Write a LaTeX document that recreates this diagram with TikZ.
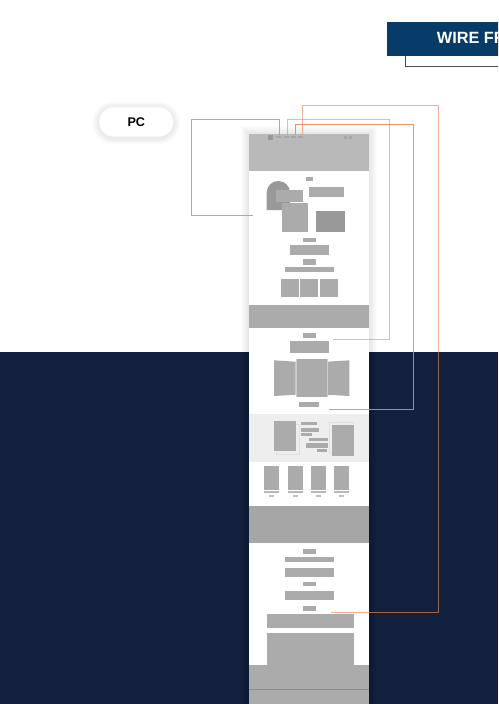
\documentclass[tikz,border=0pt]{standalone}
\usepackage{fontspec}
\setmainfont{Liberation Sans}
\definecolor{navy}{HTML}{13213F}
\definecolor{bannerblue}{HTML}{073C68}
\definecolor{hdr}{HTML}{B9B9B9}
\definecolor{el}{HTML}{ABABAB}
\definecolor{dk}{HTML}{999999}
\definecolor{lg}{HTML}{EEEEEE}
\definecolor{org}{HTML}{EE8A4E}
\tikzset{
  el/.style={fill=el},
  dkel/.style={fill=dk},
  link/.style={draw=org, line width=0.9pt},
  faint/.style={draw=black!12, line width=0.5pt},
  softshade/.style={fill=black, fill opacity=0.012},
}
\begin{document}
\begin{tikzpicture}[x=1pt,y=-1pt]
\useasboundingbox (0,0) rectangle (498,704);
\clip (0,0) rectangle (498,704);
\fill[white] (0,0) rectangle (498,704);
% dark lower background
\fill[navy] (0,352) rectangle (498,704);
% banner
\draw[black!70, line width=1pt] (405.7,50) -- (405.7,66.7) -- (510,66.7);
\fill[bannerblue] (387.3,21.7) rectangle (510,56);
\node[anchor=base west, inner sep=0pt, text=white, font=\bfseries\fontsize{16.3}{18}\selectfont] (title) at (436.7,43.3) {WIRE FRAME};
% PC pill soft shadow
\foreach \d in {1,2,...,7}
  \fill[softshade, rounded corners=14.7pt+\d pt] (99.3-\d,107.3-\d+1) rectangle (173.3+\d,136.7+\d+1);
\node[fill=white, rounded corners=14.7pt, minimum width=74pt, minimum height=29.4pt, inner sep=0pt,
  font=\bfseries\fontsize{12.6}{14}\selectfont] (pc) at (136.3,122) {PC};
% page soft shadow
\foreach \d in {1,2,...,8}
  \fill[softshade] (249-\d,134-\d) rectangle (369+\d,710);
\node[fill=white, minimum width=120pt, minimum height=600pt, inner sep=0pt, anchor=north west] (page) at (249,134) {};
% header
\fill[hdr] (249,134) rectangle (369,171);
\fill[dk] (268.3,134.7) rectangle (273,139.7);
\foreach \xx in {276,283.5,291,298.3} \fill[black!35] (\xx,136) rectangle (\xx+5,138.3);
\fill[black!35] (344,135.5) rectangle (347,138.5);
\fill[black!35] (348.5,135.5) rectangle (351.5,138.5);
\coordinate (i1) at (279.3,135);
\coordinate (i2) at (287.5,135);
\coordinate (i3) at (295.3,135);
\coordinate (i4) at (302.7,135);
% section 1
\fill[el] (306,177) rectangle (312.7,181.3);
\fill[dk] (266.7,210) [rounded corners=11.5pt]-- (266.7,181) -- (290,181) [sharp corners]-- (290,210) -- cycle;
\fill[el] (276,189.7) rectangle (303.3,202);
\fill[el] (282,202.7) rectangle (308.3,232);
\fill[el] (309,186.7) rectangle (343.7,197.3);
\fill[dk] (315.7,211) rectangle (345,232);
\fill[el] (303,237.7) rectangle (315.7,242.3);
\fill[el] (290,245.3) rectangle (328.7,254.7);
\fill[el] (303,259) rectangle (315.7,264.7);
\fill[el] (285,266.7) rectangle (334,272.3);
\fill[el] (280.7,278.7) rectangle (299,296.7);
\fill[el] (300.3,278.7) rectangle (318.3,296.7);
\fill[el] (319.7,278.7) rectangle (338,296.7);
\coordinate (p1) at (253.3,215);
% band
\fill[el] (249,304.5) rectangle (369,328.3);
% section 2
\fill[el] (302.7,333) rectangle (315.7,337.7);
\fill[el] (290,340.7) rectangle (328.7,353.3);
\fill[el] (274,360.3) -- (295.7,361.7) -- (295.7,394.7) -- (274,396) -- cycle;
\fill[el] (349.3,360.3) -- (327.3,361.7) -- (327.3,394.7) -- (349.3,396) -- cycle;
\fill[el] (295.7,359.3) rectangle (327.3,396.7);
\draw[black!20, line width=0.4pt] (295.7,359.3) -- (295.7,396.7) (327.3,359.3) -- (327.3,396.7);
\fill[el] (299.3,402.3) rectangle (319,407.3);
\coordinate (p2) at (333.3,339.7);
\coordinate (p3) at (329,409);
% section 3
\fill[lg] (249,413.7) rectangle (369,461.7);
\draw[faint] (276.7,424) rectangle (299.3,454.3);
\draw[faint] (329.3,422.3) rectangle (353.7,453);
\fill[el] (273.7,420.7) rectangle (296,450.7);
\fill[el] (332,424.7) rectangle (354.3,456);
\fill[el] (300.7,422.3) rectangle (317.3,425.3);
\fill[el] (300.7,427.7) rectangle (319,431.7);
\fill[el] (300.7,433.3) rectangle (312.3,435.7);
\fill[el] (309,438.3) rectangle (327.7,440.7);
\fill[el] (306.3,443) rectangle (327.7,447.7);
\fill[el] (317,449) rectangle (327,451.7);
% section 4 cards
\foreach \cx in {264.3,287.7,311,334.3} {
  \fill[el] (\cx,466) rectangle (\cx+15,489.6);
  \fill[black!28] (\cx,490.6) rectangle (\cx+15,493.3);
  \fill[black!25] (\cx+5,494.7) rectangle (\cx+10,497);
}
% section 5 band
\fill[black!35] (249,506) rectangle (369,543);
% section 6
\fill[el] (303.3,549.3) rectangle (315.7,554.3);
\fill[el] (285,557) rectangle (333.7,561.7);
\fill[el] (285,567.7) rectangle (333.7,576.7);
\fill[el] (303.3,581.7) rectangle (315.7,586);
\fill[el] (285,591) rectangle (333.7,599.7);
\fill[el] (303.3,605.7) rectangle (315.7,610.7);
\fill[el] (267,613.7) rectangle (354,628.3);
\fill[el] (267,633.3) rectangle (354,665);
\coordinate (p4) at (331.3,612.3);
% footer
\fill[el] (249,665) rectangle (369,704);
\draw[black!45, line width=0.6pt] (249,689.7) -- (369,689.7);
% connectors
\draw[link, opacity=0.9] (i1) |- (191.7,119.3) |- (p1);
\draw[link, opacity=0.6] (i2) |- (389.3,119.3) |- (p2);
\draw[link, opacity=0.9] (i3) |- (413.3,124.3) |- (p3);
\draw[link, opacity=0.65] (i4) |- (438.3,105.7) |- (p4);
\end{tikzpicture}
\end{document}
